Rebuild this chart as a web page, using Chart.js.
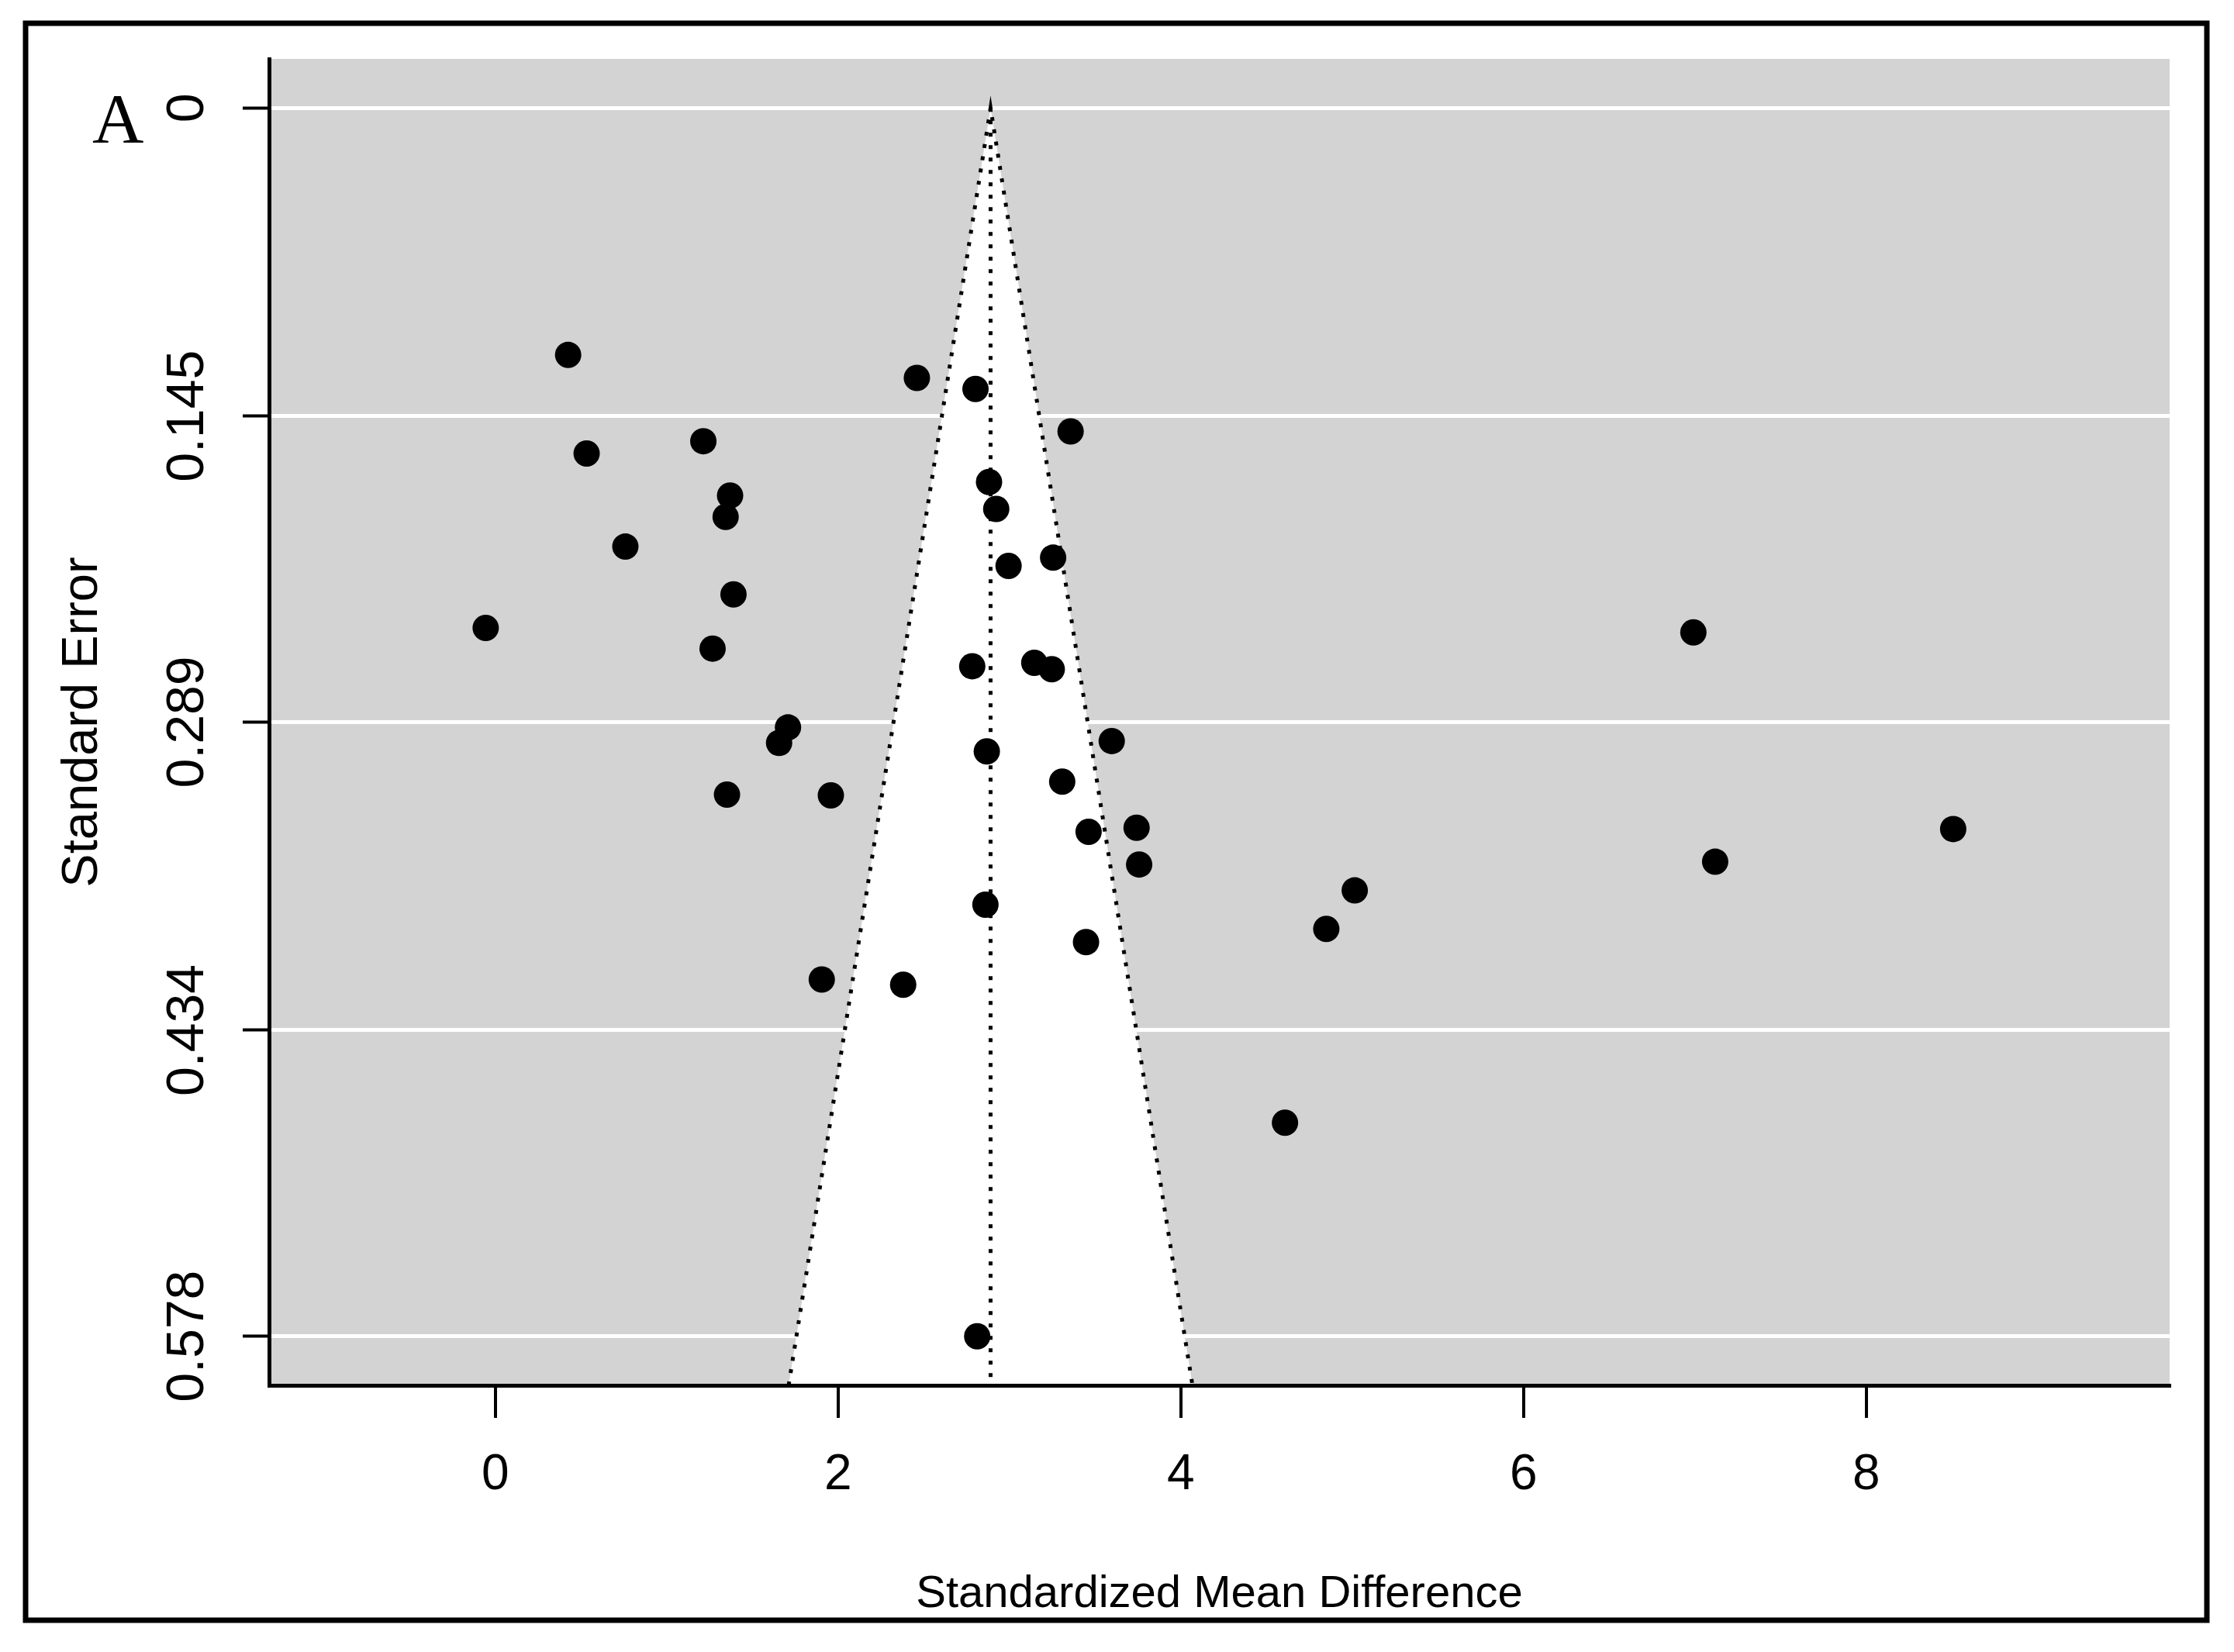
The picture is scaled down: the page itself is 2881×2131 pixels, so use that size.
<!DOCTYPE html>
<html><head><meta charset="utf-8">
<style>html,body{margin:0;padding:0;background:#fff;} canvas{display:block;}</style>
<script src="https://cdn.jsdelivr.net/npm/chart.js@4.4.0/dist/chart.umd.min.js"></script>
</head><body>
<canvas id="c" width="2881" height="2131"></canvas>
<script>
// Study effect sizes (standardized mean difference) and their standard errors
const smd = [0.425, 0.533, 1.214, 1.370, 1.344, 0.759, 1.390, -0.056, 1.268, 1.708,
             1.656, 1.352, 1.958, 1.905, 2.380, 2.460, 2.802, 3.357, 2.881, 2.923,
             3.255, 2.995, 2.783, 3.145, 3.247, 3.597, 2.868, 3.308, 3.462, 3.742,
             3.757, 2.860, 3.447, 2.812, 6.991, 8.507, 7.118, 5.015, 4.849, 4.608];
const se  = [0.1162, 0.1626, 0.1568, 0.1824, 0.1924, 0.2064, 0.2289, 0.2447, 0.2544, 0.2915,
             0.2988, 0.3231, 0.3235, 0.4101, 0.4126, 0.1270, 0.1322, 0.1522, 0.1760, 0.1887,
             0.2116, 0.2155, 0.2627, 0.2611, 0.2641, 0.2979, 0.3028, 0.3170, 0.3406, 0.3387,
             0.3560, 0.3749, 0.3925, 0.578, 0.2468, 0.3393, 0.3547, 0.3682, 0.3863, 0.4775];
const xTickValues = [0, 2, 4, 6, 8];
const xTickLabels = ['0', '2', '4', '6', '8'];
const yTickValues = [0, 0.145, 0.289, 0.434, 0.578];
const yTickLabels = ['0', '0.145', '0.289', '0.434', '0.578'];
const pooledSMD = 2.89;
const zCrit = 1.96;
const xRange = [-1.32, 9.77];
const yRange = [-0.0231, 0.6011];
const panelLabel = 'A';
const xTitle = 'Standardized Mean Difference';
const yTitle = 'Standard Error';

const funnelEdge = [
  {x: pooledSMD - zCrit * yRange[1], y: yRange[1]},
  {x: pooledSMD, y: 0},
  {x: pooledSMD + zCrit * yRange[1], y: yRange[1]}
];
const pooledLine = [{x: pooledSMD, y: 0}, {x: pooledSMD, y: yRange[1]}];

Chart.defaults.font.family = 'Liberation Sans';
Chart.defaults.color = '#000';

const decor = {
  id: 'decor',
  beforeDraw(chart) {
    const {ctx, chartArea: a} = chart;
    ctx.save();
    ctx.fillStyle = '#d3d3d3';
    ctx.fillRect(a.left, a.top, a.right - a.left, a.bottom - a.top);
    ctx.restore();
  },
  afterDraw(chart) {
    const ctx = chart.ctx;
    ctx.save();
    ctx.strokeStyle = '#000';
    ctx.lineWidth = 7;
    ctx.strokeRect(33, 30, 2846 - 33, 2090 - 30);
    ctx.fillStyle = '#000';
    ctx.font = '92px "Liberation Serif"';
    ctx.textAlign = 'left';
    ctx.textBaseline = 'alphabetic';
    ctx.fillText(panelLabel, 119, 184);
    ctx.restore();
  }
};

new Chart(document.getElementById('c'), {
  type: 'scatter',
  data: {
    datasets: [
      { type: 'scatter', label: 'Studies', data: smd.map((x, i) => ({x: x, y: se[i]})),
        pointRadius: 17, pointHoverRadius: 17, pointBackgroundColor: '#000', pointBorderColor: '#000',
        pointBorderWidth: 0, showLine: false, order: 0 },
      { type: 'line', label: 'Pooled', data: pooledLine, borderColor: '#000', borderWidth: 5,
        borderDash: [5, 11], pointRadius: 0, fill: false, order: 1 },
      { type: 'line', label: 'Funnel', data: funnelEdge, borderColor: '#000', borderWidth: 5,
        borderDash: [5, 11], pointRadius: 0, tension: 0, backgroundColor: '#fff',
        fill: {value: yRange[1]}, order: 2 }
    ]
  },
  options: {
    responsive: false,
    animation: false,
    devicePixelRatio: 1,
    layout: { padding: {left: 0, top: 76, right: 83, bottom: 0} },
    plugins: { legend: {display: false}, tooltip: {enabled: false} },
    scales: {
      x: {
        type: 'linear', min: xRange[0], max: xRange[1],
        afterBuildTicks: s => { s.ticks = xTickValues.map(v => ({value: v})); },
        afterFit: s => { s.height = 344; },
        ticks: { callback: (v, i) => xTickLabels[i], font: {size: 64}, color: '#000', padding: 36,
                 minRotation: 0, maxRotation: 0, autoSkip: false },
        grid: { drawOnChartArea: false, drawTicks: true, tickLength: 42, tickColor: '#000', tickWidth: 4,
                color: '#000', lineWidth: 4 },
        border: { display: true, color: '#000', width: 5, z: 1 },
        title: { display: true, text: xTitle, font: {size: 58},
                 color: '#000', padding: {top: 0, bottom: 39} }
      },
      y: {
        type: 'linear', reverse: true, min: yRange[0], max: yRange[1],
        afterBuildTicks: s => { s.ticks = yTickValues.map(v => ({value: v})); },
        afterFit: s => { s.width = 347; },
        ticks: { callback: (v, i) => yTickLabels[i], font: {size: 68}, color: '#000', padding: -15,
                 minRotation: 90, maxRotation: 90, crossAlign: 'center', autoSkip: false },
        grid: { drawOnChartArea: true, color: '#fff', lineWidth: 5, tickColor: '#000', tickWidth: 4,
                tickLength: 34 },
        border: { display: true, color: '#000', width: 5, z: 1 },
        title: { display: true, text: yTitle, font: {size: 65}, color: '#000', padding: {top: 68, bottom: 0} }
      }
    }
  },
  plugins: [decor]
});
</script>
</body></html>
